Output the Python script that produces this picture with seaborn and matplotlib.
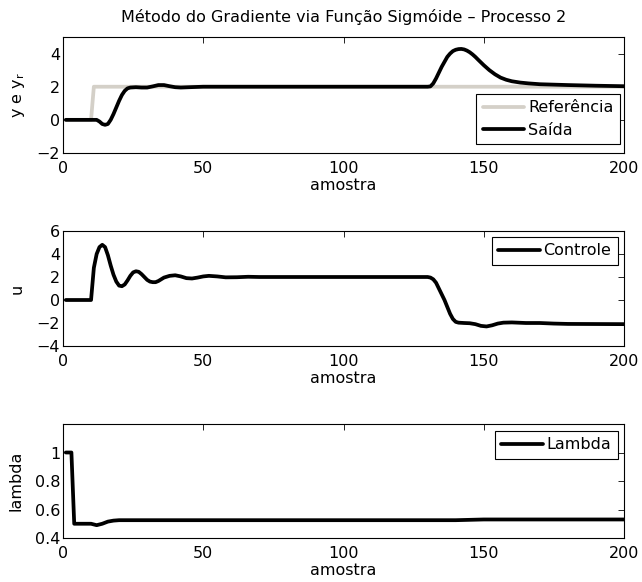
import matplotlib
matplotlib.use("Agg")
import matplotlib.pyplot as plt
import seaborn as sns

# ---- data ----
ref_k = [1, 10, 11, 200]
ref_y = [0, 0, 2, 2]

out_k = [1, 11, 12, 13, 14, 15, 16, 17, 18, 19, 20, 21, 22, 23, 24, 26, 28, 30, 32, 34, 36, 38,
         40, 42, 45, 50, 60, 130, 131, 132, 133, 134, 135, 136, 137, 138, 139, 140, 141, 142,
         143, 144, 145, 146, 147, 148, 150, 152, 154, 156, 158, 160, 163, 166, 170, 180, 190, 200]
out_y = [0, 0, 0, -0.1, -0.25, -0.3, -0.25, 0.0, 0.35, 0.75, 1.15, 1.5, 1.75, 1.9, 1.95, 1.97,
         1.95, 1.95, 2.02, 2.1, 2.1, 2.03, 1.97, 1.95, 1.97, 2.0, 2.0, 2.0, 2.02, 2.2, 2.5, 2.85,
         3.2, 3.5, 3.8, 4.0, 4.15, 4.23, 4.27, 4.28, 4.25, 4.18, 4.08, 3.95, 3.8, 3.63, 3.3, 3.0,
         2.75, 2.55, 2.42, 2.33, 2.25, 2.2, 2.15, 2.1, 2.06, 2.03]

u_k = [1, 10, 11, 12, 13, 14, 15, 16, 17, 18, 19, 20, 21, 22, 23, 24, 25, 26, 27, 28, 29, 30,
       31, 32, 33, 34, 35, 36, 38, 40, 42, 44, 46, 48, 50, 52, 55, 58, 62, 66, 70, 130, 131,
       132, 133, 134, 135, 136, 137, 138, 139, 140, 141, 143, 145, 147, 149, 151, 153, 155,
       157, 160, 165, 170, 175, 180, 200]
u_y = [0, 0, 2.8, 4.0, 4.6, 4.8, 4.6, 3.9, 3.0, 2.2, 1.6, 1.25, 1.2, 1.35, 1.7, 2.1, 2.4, 2.5,
       2.45, 2.25, 2.0, 1.75, 1.6, 1.55, 1.55, 1.65, 1.8, 1.95, 2.1, 2.15, 2.05, 1.9, 1.87, 1.95,
       2.05, 2.1, 2.05, 1.97, 1.98, 2.02, 2.0, 2.0, 1.95, 1.8, 1.5, 1.0, 0.5, 0.0, -0.6, -1.2,
       -1.65, -1.9, -1.97, -2.0, -2.02, -2.1, -2.25, -2.3, -2.2, -2.05, -1.97, -1.95, -2.0,
       -2.0, -2.05, -2.08, -2.1]

lam_k = [1, 3, 4, 10, 12, 14, 16, 18, 20, 140, 150, 200]
lam_y = [1.0, 1.0, 0.5, 0.5, 0.49, 0.5, 0.515, 0.522, 0.525, 0.525, 0.53, 0.53]

x_ticks = [0, 50, 100, 150, 200]

# ---- style ----
sns.set_style("white")
plt.rcParams['font.family'] = ['DejaVu Sans']
plt.rcParams['mathtext.fontset'] = 'dejavusans'
plt.rcParams['text.color'] = 'black'
plt.rcParams['axes.labelcolor'] = 'black'
plt.rcParams['xtick.color'] = 'black'
plt.rcParams['ytick.color'] = 'black'
FS = 11.5

fig = plt.figure(figsize=(6.42, 5.82), dpi=100)
L, W = 63 / 642, (624 - 63) / 642
ax1 = fig.add_axes([L, 1 - 153 / 582, W, 116 / 582])
ax2 = fig.add_axes([L, 1 - 346 / 582, W, 115 / 582])
ax3 = fig.add_axes([L, 1 - 538 / 582, W, 114 / 582])

black = 'black'
gray = '#d4d0c8'
LW = 2.7

sns.lineplot(x=ref_k, y=ref_y, ax=ax1, color=gray, lw=LW, label='Referência')
sns.lineplot(x=out_k, y=out_y, ax=ax1, color=black, lw=LW, label='Saída')
sns.lineplot(x=u_k, y=u_y, ax=ax2, color=black, lw=LW, label='Controle')
sns.lineplot(x=lam_k, y=lam_y, ax=ax3, color=black, lw=LW, label='Lambda')

ax1.set_ylim(-2, 5)
ax1.set_yticks([-2, 0, 2, 4])
ax1.set_yticklabels(['\u22122', '0', '2', '4'])
ax2.set_ylim(-4, 6)
ax2.set_yticks([-4, -2, 0, 2, 4, 6])
ax2.set_yticklabels(['\u22124', '\u22122', '0', '2', '4', '6'])
ax3.set_ylim(0.4, 1.2)
ax3.set_yticks([0.4, 0.6, 0.8, 1.0])
ax3.set_yticklabels(['0.4', '0.6', '0.8', '1'])

ax1.set_ylabel(r'y e y$_\mathregular{r}$', fontsize=FS, labelpad=7, color='black')
ax2.set_ylabel('u', fontsize=FS, labelpad=9, color='black')
ax3.set_ylabel('lambda', fontsize=FS, labelpad=8, color='black')
ax1.set_title('Método do Gradiente via Função Sigmóide – Processo 2', fontsize=FS, pad=11,
              color='black')

legend_pos = [('lower right', (0.993, 0.078)),
              ('upper right', (0.989, 0.948)),
              ('upper right', (0.989, 0.939))]
for ax, (loc, anchor) in zip([ax1, ax2, ax3], legend_pos):
    ax.set_xlim(0, 200)
    ax.set_xticks(x_ticks)
    ax.set_xlabel('amostra', fontsize=FS, labelpad=1, color='black')
    ax.tick_params(direction='in', top=True, right=True, length=4, width=0.6,
                   labelsize=FS, colors='black')
    ax.tick_params(axis='x', pad=6)
    ax.tick_params(axis='y', pad=2)
    for s in ax.spines.values():
        s.set_color('black')
        s.set_linewidth(0.8)
        s.set_visible(True)
    leg = ax.legend(loc=loc, bbox_to_anchor=anchor, fontsize=FS, frameon=True,
                    fancybox=False, framealpha=1, edgecolor='black',
                    handlelength=2.6, handletextpad=0.25, borderpad=0.4,
                    borderaxespad=0, labelspacing=0.45)
    leg.get_frame().set_linewidth(0.8)
    for t in leg.get_texts():
        t.set_color('black')

fig.savefig('out.png', dpi=100, facecolor='white')
